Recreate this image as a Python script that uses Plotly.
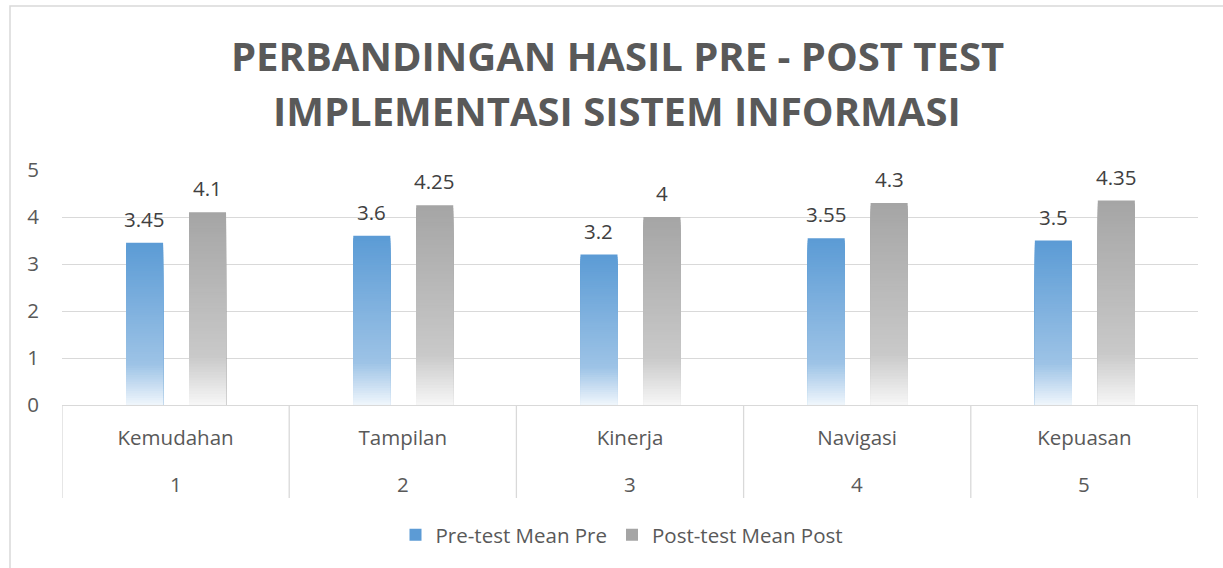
import plotly.graph_objects as go

# ---- data ----
categories = ["Kemudahan", "Tampilan", "Kinerja", "Navigasi", "Kepuasan"]
category_numbers = ["1", "2", "3", "4", "5"]
pre_values = [3.45, 3.6, 3.2, 3.55, 3.5]
post_values = [4.1, 4.25, 4.0, 4.3, 4.35]
series_names = ["Pre-test Mean Pre", "Post-test Mean Post"]
y_ticks = [0, 1, 2, 3, 4, 5]

# ---- style ----
FONT = "Open Sans"
TXT = "#595959"
GRID = "#D9D9D9"
BLUE_STOPS = [(0.0, (240, 246, 252)), (0.25, (157, 195, 230)), (1.0, (91, 155, 213))]
GREY_STOPS = [(0.0, (247, 247, 247)), (0.25, (201, 201, 201)), (1.0, (165, 165, 165))]
BAR_W = 0.163
OFFSETS = [-0.218, 0.059]
LABEL_SIZE = 20.5

W, H = 1223, 568
ML, MR, MT, MB = 62, 25, 170, 163
PW = W - ML - MR
PH = H - MT - MB
CAT_PX = PW / len(categories)


def grad(stops, f):
    for (f0, c0), (f1, c1) in zip(stops[:-1], stops[1:]):
        if f0 <= f <= f1:
            t = (f - f0) / (f1 - f0)
            c = [round(a + (b - a) * t) for a, b in zip(c0, c1)]
            return "rgb(%d,%d,%d)" % tuple(c)
    c = stops[-1][1]
    return "rgb(%d,%d,%d)" % c


fig = go.Figure()
N = 70
for s, (vals, stops, off, name) in enumerate(
    zip([pre_values, post_values], [BLUE_STOPS, GREY_STOPS], OFFSETS, series_names)
):
    for k in range(N):
        f = 1 - k / N  # fraction of bar height for this layer
        fc = f - 0.5 / N
        fig.add_trace(
            go.Bar(
                x=categories,
                y=[v * f for v in vals],
                width=BAR_W,
                offset=off,
                marker=dict(color=grad(stops, fc), line=dict(width=0)),
                name=name,
                showlegend=(k == 0),
                legendgroup=name,
                hoverinfo="skip",
            )
        )

# data labels
annotations = []
for vals, off in zip([pre_values, post_values], OFFSETS):
    for c, v in zip(categories, vals):
        annotations.append(
            dict(
                x=c, y=v, xref="x", yref="y",
                text=f"{v:g}", showarrow=False,
                xshift=(off + BAR_W / 2) * CAT_PX, yshift=24,
                yanchor="middle",
                font=dict(family=FONT, size=LABEL_SIZE, color="#404040"),
            )
        )

# second row of category labels (numbers)
for c, n in zip(categories, category_numbers):
    annotations.append(
        dict(
            x=c, y=-(484 - (H - MB)) / PH, xref="x", yref="paper",
            text=n, showarrow=False, yanchor="middle",
            font=dict(family=FONT, size=LABEL_SIZE, color=TXT),
        )
    )

# title
title_lines = ["PERBANDINGAN HASIL PRE - POST TEST", "IMPLEMENTASI SISTEM INFORMASI"]
for line, ypx in zip(title_lines, [55.5, 110.5]):
    annotations.append(
        dict(
            x=(617 - ML) / PW, y=(H - MB - ypx) / PH, xref="paper", yref="paper",
            text=f"<b>{line}</b>", showarrow=False, xanchor="center", yanchor="middle",
            font=dict(family=FONT, size=40, color=TXT),
        )
    )

# divider lines under the category axis
shapes = []
for i in range(len(categories) + 1):
    shapes.append(
        dict(type="line", xref="x", yref="paper", x0=i - 0.5, x1=i - 0.5,
             y0=0, y1=-(498 - (H - MB)) / PH, line=dict(color=GRID, width=1.3))
    )
# chart border
shapes.append(
    dict(type="rect", xref="paper", yref="paper",
         x0=(10 - ML) / PW, x1=(W + 20 - ML) / PW,
         y0=-(MB + 20) / PH, y1=(H - MB - 6) / PH,
         line=dict(color=GRID, width=1.5), fillcolor="rgba(0,0,0,0)", layer="below")
)

fig.update_layout(
    width=W, height=H,
    margin=dict(l=ML, r=MR, t=MT, b=MB),
    paper_bgcolor="white", plot_bgcolor="white",
    barmode="overlay",
    font=dict(family=FONT, size=LABEL_SIZE, color=TXT),
    showlegend=True,
    legend=dict(orientation="h", x=(622 - ML) / PW, xanchor="center",
                y=-(535 - (H - MB)) / PH, yanchor="middle",
                font=dict(family=FONT, size=LABEL_SIZE, color=TXT), traceorder="normal"),
    annotations=annotations,
    shapes=shapes,
    xaxis=dict(
        type="category", tickmode="array", tickvals=categories, ticktext=categories,
        showline=True, linecolor=GRID, linewidth=1.3, showgrid=False,
        ticks="", ticklabelstandoff=14,
        tickfont=dict(family=FONT, size=LABEL_SIZE, color=TXT),
        range=[-0.5, len(categories) - 0.5],
    ),
    yaxis=dict(
        range=[0, 5], tickvals=y_ticks, showgrid=True, gridcolor=GRID, gridwidth=1.3,
        zeroline=False, showline=False, ticks="", ticklabelstandoff=22,
        tickfont=dict(family=FONT, size=LABEL_SIZE, color=TXT),
    ),
)

fig.write_html("out.html", config={"displayModeBar": False},
               post_script="document.body.style.margin='0';")
